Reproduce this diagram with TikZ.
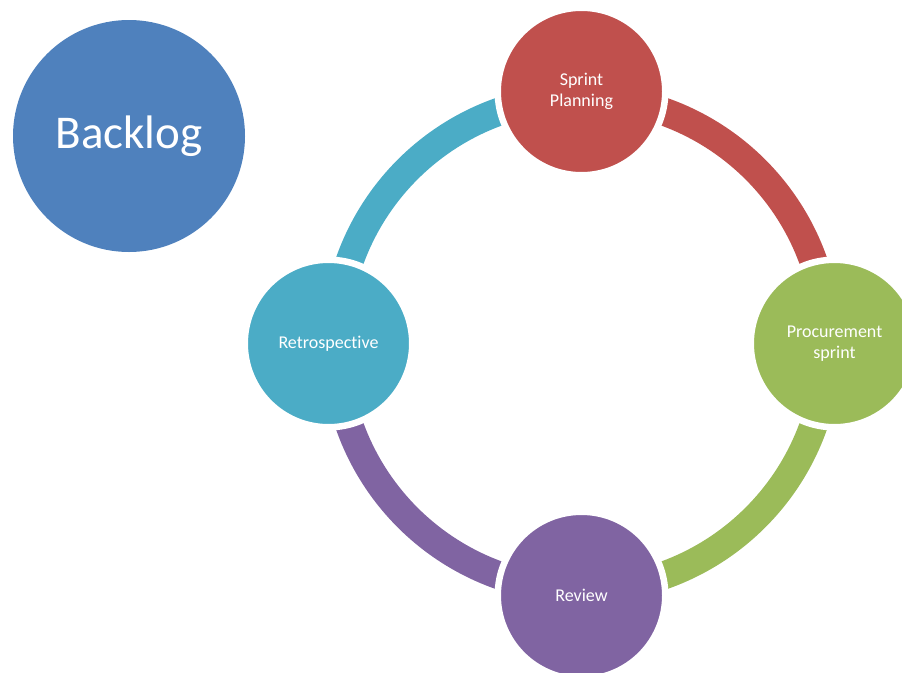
\documentclass[tikz,border=0pt]{standalone}
\usepackage{fontspec}
\setmainfont[Ligatures={NoCommon}]{Carlito}
\definecolor{cblue}{HTML}{4F81BD}
\definecolor{cred}{HTML}{C0504D}
\definecolor{cgreen}{HTML}{9BBB59}
\definecolor{cpurple}{HTML}{8064A2}
\definecolor{cteal}{HTML}{4BACC6}
\begin{document}
\begin{tikzpicture}[x=1pt,y=-1pt,
  stage/.style={circle, draw=white, line width=6.5pt, minimum size=167.5pt, inner sep=0pt,
    text=white, align=center, font=\fontsize{18}{21.5}\selectfont},
  band/.style={line width=28pt},
  bigbubble/.style={circle, minimum size=232pt, inner sep=0pt, text=white,
    font=\fontsize{47}{50}\selectfont}]
\useasboundingbox (0,0) rectangle (902,672);
\clip (0,0) rectangle (902,672);
\coordinate (C) at (581.5,343.5);
% ring bands, one colour per quadrant
\begin{scope}
  \clip (581.5,0) rectangle (902,343.5);
  \draw[band, cred] (C) circle[radius=246pt];
\end{scope}
\begin{scope}
  \clip (581.5,343.5) rectangle (902,672);
  \draw[band, cgreen] (C) circle[radius=246pt];
\end{scope}
\begin{scope}
  \clip (0,343.5) rectangle (581.5,672);
  \draw[band, cpurple] (C) circle[radius=246pt];
\end{scope}
\begin{scope}
  \clip (0,0) rectangle (581.5,343.5);
  \draw[band, cteal] (C) circle[radius=246pt];
\end{scope}
% stages
\node[stage, fill=cred] (sp) at (581.5,91.5) {Sprint\\Planning};
\node[stage, fill=cgreen] (ps) at (834.5,343.5) {Procurement\\sprint};
\node[stage, fill=cpurple] (rv) at (581.5,595.5) {Review};
\node[stage, fill=cteal] (rt) at (328.5,343.5) {Retrospective};
% backlog
\node[bigbubble, fill=cblue] (bl) at (129,136) {Backlog};
\end{tikzpicture}
\end{document}
